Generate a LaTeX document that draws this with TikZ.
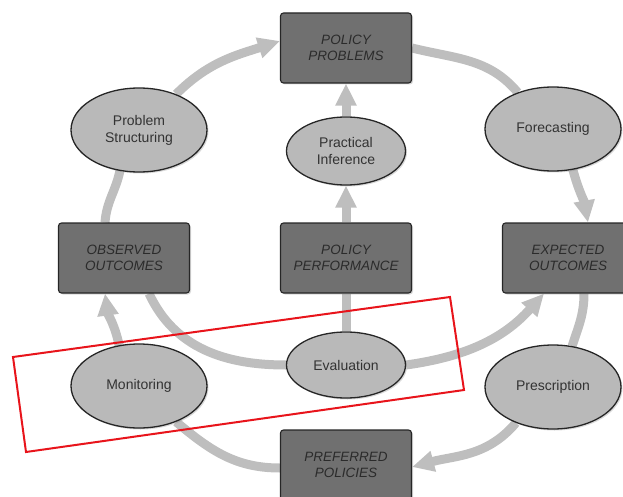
\documentclass[tikz,border=0pt]{standalone}
\usepackage{fontspec}
\setmainfont{Liberation Sans}
\usetikzlibrary{arrows.meta,shapes.geometric,shadows,backgrounds}
\definecolor{conn}{HTML}{BEBEBE}
\definecolor{boxgray}{HTML}{707070}
\definecolor{boxtext}{HTML}{2B2B2B}
\definecolor{ellgray}{HTML}{B9B9B9}
\definecolor{hilite}{HTML}{E8141B}
\begin{document}
\begin{tikzpicture}[x=1pt,y=1pt,
  boxnode/.style={draw=black!85, line width=1.1pt, fill=boxgray, rounded corners=3pt,
    minimum width=131pt, minimum height=70pt, align=center, text=boxtext,
    font=\fontsize{13.5}{16.5}\selectfont\itshape,
    drop shadow={shadow xshift=1.5pt,shadow yshift=-1.5pt,opacity=0.3}},
  ellnode/.style={ellipse, draw=black!85, line width=1.3pt, fill=ellgray, inner sep=0pt,
    align=center, text=black!80, font=\fontsize{14}{17}\selectfont,
    drop shadow={shadow xshift=1.5pt,shadow yshift=-1.5pt,opacity=0.3}},
  flow/.style={draw=conn, line width=9pt},
  flowarrow/.style={flow, -{Triangle[length=22pt,width=20pt]}}]
\useasboundingbox (0,0) rectangle (623,-497);

% boxes
\node[boxnode] (pp)   at (346,-48)  {POLICY\\PROBLEMS};
\node[boxnode] (oo)   at (124,-258) {OBSERVED\\OUTCOMES};
\node[boxnode] (perf) at (346,-258) {POLICY\\PERFORMANCE};
\node[boxnode] (eo)   at (568,-258) {EXPECTED\\OUTCOMES};
\node[boxnode] (pref) at (346,-465) {PREFERRED\\POLICIES};

% ellipses
\node[ellnode, minimum width=136pt, minimum height=84pt] (ps)  at (139,-130) {Problem\\Structuring};
\node[ellnode, minimum width=119pt, minimum height=68pt] (pi)  at (346,-151) {Practical\\Inference};
\node[ellnode, minimum width=136pt, minimum height=84pt] (fc)  at (553,-129) {Forecasting};
\node[ellnode, minimum width=136pt, minimum height=84pt] (mon) at (139,-386) {Monitoring};
\node[ellnode, minimum width=119pt, minimum height=66pt] (ev)  at (346,-365) {Evaluation};
\node[ellnode, minimum width=136pt, minimum height=84pt] (pr)  at (553,-387) {Prescription};

\begin{scope}[on background layer]
  % outer cycle
  \draw[flowarrow] (ps.44) to[out=45,in=198] ([yshift=7pt]pp.west);
  \draw[flow] (pp.east) to[out=-14,in=130] (fc.134);
  \draw[flowarrow] (fc.-64) to[out=-75,in=100] ([xshift=20pt]eo.north);
  \draw[flow] ([xshift=16pt]eo.south) to[out=-90,in=72] (pr.65);
  \draw[flowarrow] (pr.-136) to[out=-130,in=15] ([yshift=-2pt]pref.east);
  \draw[flow] ([yshift=-3pt]pref.west) to[out=180,in=-40] (mon.-44);
  \draw[flowarrow] (mon.116) to[out=102,in=-82] ([xshift=-19pt]oo.south);
  \draw[flow] ([xshift=-19pt]oo.north) to[out=86,in=-102] (ps.-115);
  % centre column
  \draw[flowarrow] (pi.north) -- (pp.south);
  \draw[flowarrow] (perf.north) -- (pi.south);
  \draw[flow] (perf.south) -- (ev.north);
  % evaluation links
  \draw[flow] ([xshift=25pt]oo.south) to[out=-65,in=180] (ev.west);
  \draw[flowarrow] (ev.east) to[out=8,in=228] ([xshift=-24pt]eo.south);
\end{scope}

% highlight frame
\draw[hilite, line width=2pt] (13,-357) -- (450,-297) -- (464,-390) -- (26,-452) -- cycle;
\end{tikzpicture}
\end{document}
